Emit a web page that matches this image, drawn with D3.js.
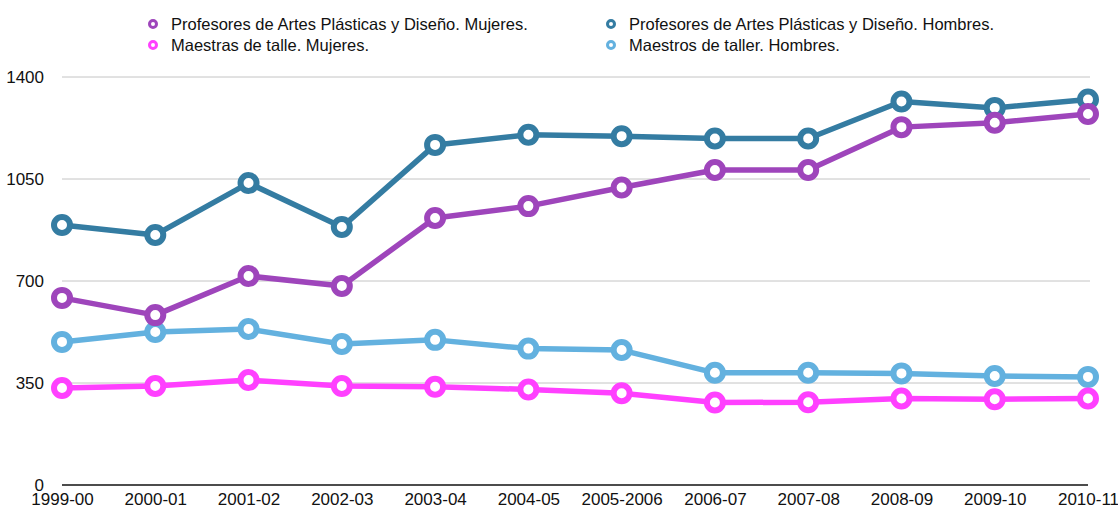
<!DOCTYPE html>
<html>
<head>
<meta charset="utf-8">
<script src="https://cdn.jsdelivr.net/npm/d3@7"></script>
<style>
  body { margin: 0; background: #fff; }
  text { font-family: "Liberation Sans", Arial, Helvetica, sans-serif; }
</style>
</head>
<body>
<svg id="chart" width="1118" height="508"></svg>
<script>
const categories = ["1999-00","2000-01","2001-02","2002-03","2003-04","2004-05","2005-2006","2006-07","2007-08","2008-09","2009-10","2010-11"];
const profMujeres   = [642, 583, 717, 683, 916, 957, 1021, 1081, 1081, 1228, 1243, 1273];
const profHombres   = [892, 858, 1036, 885, 1167, 1202, 1197, 1189, 1189, 1316, 1294, 1323];
const maestrasMuj   = [333, 340, 360, 340, 337, 328, 315, 283, 284, 297, 294, 297];
const maestrosHom   = [491, 525, 535, 484, 498, 468, 463, 385, 385, 383, 374, 371];
const yTicks = [0, 350, 700, 1050, 1400];

const series = [
  { name: "Profesores de Artes Plásticas y Diseño. Hombres.", values: profHombres, color: "#347ca2" },
  { name: "Maestros de taller. Hombres.", values: maestrosHom, color: "#63b1df" },
  { name: "Maestras de talle. Mujeres.", values: maestrasMuj, color: "#ff40ff" },
  { name: "Profesores de Artes Plásticas y Diseño. Mujeres.", values: profMujeres, color: "#9e45bb" }
];
const legendOrder = [
  { s: 3, col: 0, row: 0 },
  { s: 0, col: 1, row: 0 },
  { s: 2, col: 0, row: 1 },
  { s: 1, col: 1, row: 1 }
];

const FS = 17;
const svg = d3.select("#chart");
const x = d3.scalePoint().domain(categories).range([62, 1088]);
const y = d3.scaleLinear().domain([0, 1400]).range([485, 77]);

// gridlines
svg.append("g").selectAll("line").data(yTicks.filter(d => d > 0)).join("line")
  .attr("x1", 62).attr("x2", 1090)
  .attr("y1", d => y(d)).attr("y2", d => y(d))
  .attr("stroke", "#c4c4c4").attr("stroke-width", 1);

// y axis labels
const yAxis = d3.axisLeft(y).tickValues(yTicks).tickFormat(d3.format("d")).tickSize(0).tickPadding(0);
const gy = svg.append("g").attr("transform", "translate(44,0)").call(yAxis);
gy.select(".domain").remove();
gy.selectAll("text").attr("font-size", FS).attr("fill", "#111")
  .style("font-family", "'Liberation Sans', Arial, sans-serif");

// x axis
const xAxis = d3.axisBottom(x).tickSize(0).tickPadding(8);
const gx = svg.append("g").attr("transform", "translate(0,485)").call(xAxis);
gx.select(".domain").remove();
gx.selectAll("text").attr("font-size", FS).attr("fill", "#111")
  .style("font-family", "'Liberation Sans', Arial, sans-serif");
svg.append("line").attr("x1", 62).attr("x2", 1088).attr("y1", y(0)).attr("y2", y(0))
  .attr("stroke", "#111").attr("stroke-width", 1.5);

// lines
const line = d3.line().x((d, i) => x(categories[i])).y(d => y(d));
series.forEach(s => {
  const g = svg.append("g");
  g.append("path").datum(s.values).attr("d", line)
    .attr("fill", "none").attr("stroke", s.color).attr("stroke-width", 5.5)
    .attr("stroke-linejoin", "round");
  g.selectAll("circle").data(s.values).join("circle")
    .attr("cx", (d, i) => x(categories[i])).attr("cy", d => y(d))
    .attr("r", 8).attr("fill", "#fff").attr("stroke", s.color).attr("stroke-width", 6);
});

// legend
const leg = svg.append("g");
legendOrder.forEach(l => {
  const s = series[l.s];
  const lx = l.col === 0 ? 153 : 611;
  const ly = 24 + l.row * 21;
  leg.append("circle").attr("cx", lx).attr("cy", ly).attr("r", 3.5)
    .attr("fill", "#fff").attr("stroke", s.color).attr("stroke-width", 3);
  leg.append("text").attr("x", lx + 18).attr("y", ly).attr("dy", "0.35em")
    .attr("font-size", 16.5).attr("fill", "#111").text(s.name);
});
</script>
</body>
</html>
